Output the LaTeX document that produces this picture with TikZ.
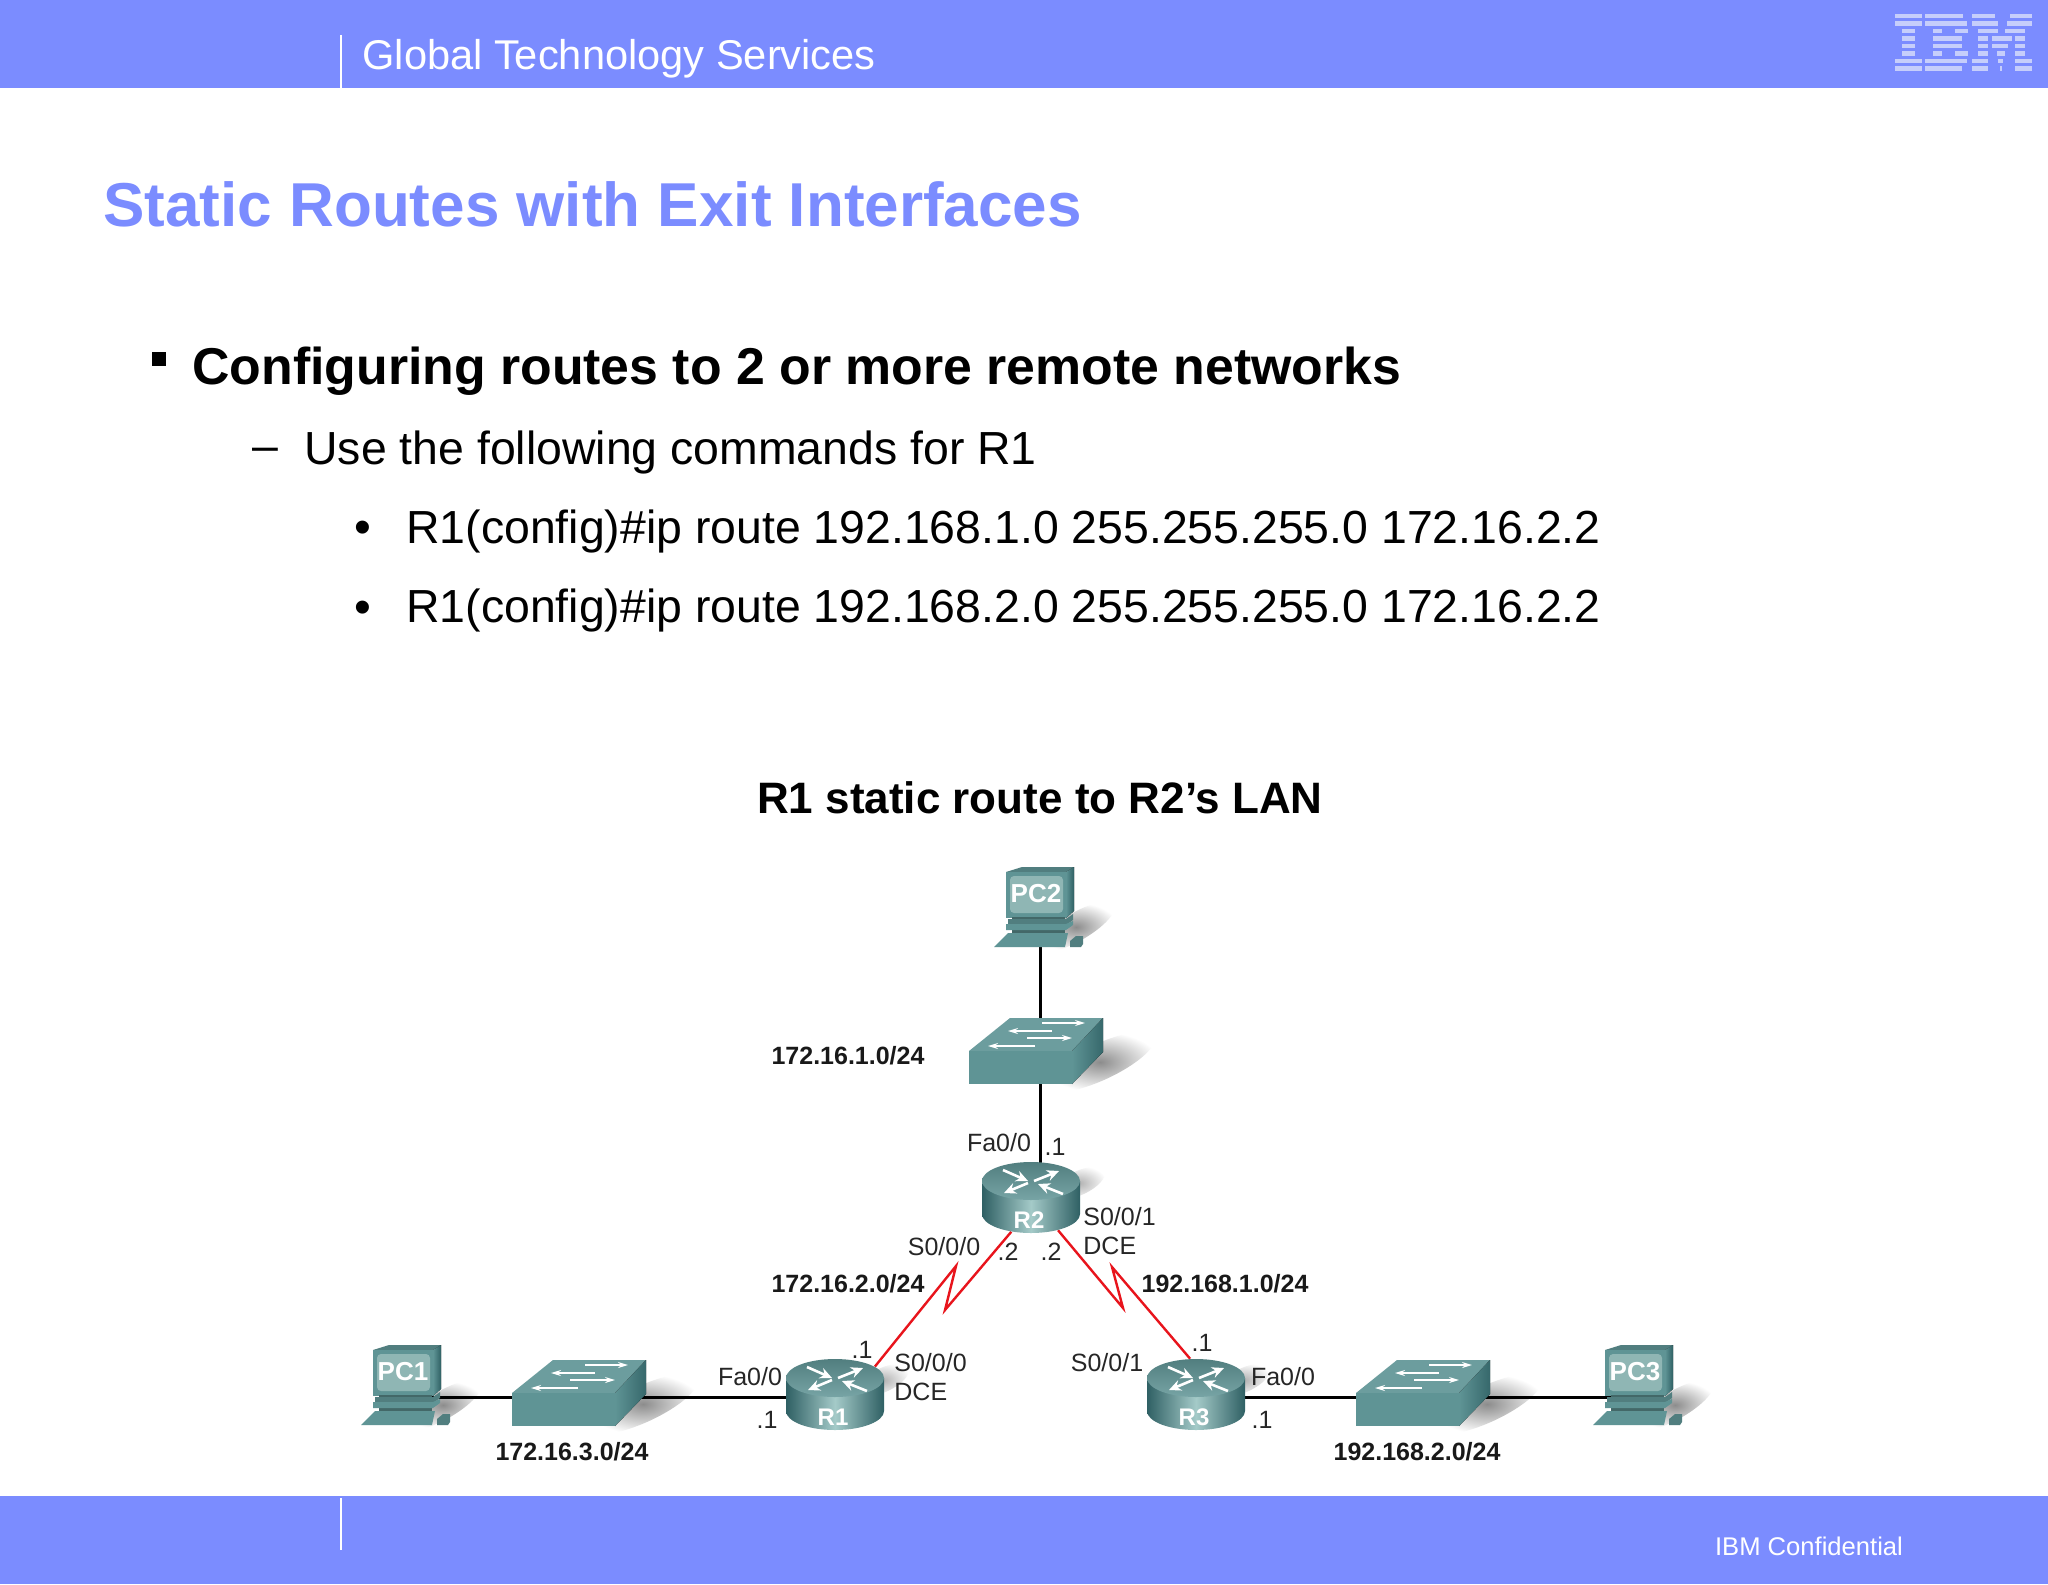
\documentclass[tikz,border=0pt]{standalone}
\usepackage{fontspec}
\setmainfont{Liberation Sans}
\usetikzlibrary{arrows.meta,shapes.geometric}
\definecolor{barblue}{HTML}{7B8CFF}
\definecolor{logoblue}{HTML}{C6CEFB}
\definecolor{teal}{HTML}{5F9495}
\definecolor{tealdark}{HTML}{2F6064}
\definecolor{teallight}{HTML}{A4CAC8}
\definecolor{tealscreen}{HTML}{8FB6B4}
\definecolor{linkred}{HTML}{E8141C}
\pgfdeclarelayer{shadow}
\pgfdeclarelayer{wires}
\pgfsetlayers{shadow,wires,main}

\begin{document}
\begin{tikzpicture}[x=.5pt,y=-.5pt,
head/.style={font=\fontsize{20.8}{24}\selectfont,text=white,inner sep=0},
slidetitle/.style={font=\fontsize{31}{36}\bfseries\selectfont,text=barblue,anchor=base west,inner sep=0},
itemone/.style={font=\fontsize{25.9}{30}\bfseries\selectfont,anchor=base west,inner sep=0},
itemtwo/.style={font=\fontsize{23.2}{28}\selectfont,anchor=base west,inner sep=0},
netlabel/.style={font=\fontsize{12.5}{15}\bfseries\selectfont,text=black!90,inner sep=0},
portlabel/.style={font=\fontsize{12.5}{14.5}\selectfont,text=black!85,inner sep=0,align=left},
lan/.style={line width=1.5pt,black},
serial/.style={line width=1.2pt,linkred,line join=miter},
flowbig/.style={white,line width=1.3pt,-{Stealth[length=6pt,width=5.5pt]}},
flowsmall/.style={white,line width=.7pt,-{Stealth[length=5pt,width=3pt]}},
devtext/.style={font=\fontsize{13}{15}\bfseries\selectfont,text=white,inner sep=0},
pics/pcicon/.style={code={
  \begin{pgfonlayer}{shadow}
    \shade[inner color=black!45,outer color=white,rotate around={30:(36,8)}] (36,8) ellipse[x radius=22pt,y radius=7pt];
  \end{pgfonlayer}
  \coordinate (port) at (0,0);
  \fill[teal!85!black] (-34,-47) -- (-18,-52) -- (34,-52) -- (26,-47) -- cycle;
  \fill[left color=teal,right color=tealdark] (26,-47) -- (34,-52) -- (34,-8) -- (26,-1) -- cycle;
  \fill[teal] (-34,-47) rectangle (26,-1);
  \fill[tealscreen,rounded corners=2pt] (-30,-43) rectangle (23,-6);
  \fill[teal!70!black] (-28,-2) rectangle (25,16);
  \fill[teal!85!black] (-32,0) -- (26,0) -- (33,-5) -- (33,1) -- (26,6) -- (-32,6) -- cycle;
  \fill[teal] (-34,5) -- (26,5) -- (33,2) -- (33,6) -- (26,11) -- (-34,11) -- cycle;
  \fill[teal] (-46,28) -- (-32,14) -- (28,14) -- (25,28) -- cycle;
  \fill[teal!85!black] (30,22) -- (36,17) -- (43,17) -- (43,25) -- (41,28) -- (30,28) -- cycle;
  \node (text) [devtext] at (-4,-25) {#1};
}},
pics/switchicon/.style={code={
  \begin{pgfonlayer}{shadow}
    \shade[inner color=black!45,outer color=white,rotate around={25:(60,12)}] (60,12) ellipse[x radius=30pt,y radius=9pt];
  \end{pgfonlayer}
  \coordinate (port) at (0,5);
  \fill[teal!92!white] (-71,1) -- (-30,-32) -- (63,-32) -- (32,1) -- cycle;
  \fill[teal] (-71,1) rectangle (32,34);
  \fill[left color=teal,right color=tealdark!85!teal] (32,1) -- (63,-32) -- (63,2) -- (32,34) -- cycle;
  \draw[flowsmall] (2,-27) -- (45,-27);
  \draw[flowsmall] (12,-19) -- (-32,-19);
  \draw[flowsmall] (-13,-12) -- (32,-12);
  \draw[flowsmall] (-5,-4) -- (-52,-4);
}},
pics/routericon/.style={code={
  \begin{pgfonlayer}{shadow}
    \shade[inner color=black!30,outer color=white,rotate around={25:(48,2)}] (48,2) ellipse[x radius=14pt,y radius=6pt];
  \end{pgfonlayer}
  \node (base) [ellipse,inner sep=0,minimum width=49pt,minimum height=19pt] at (0,33) {};
  \shade[left color=tealdark,right color=tealdark,middle color=teallight]
    (-49,0) -- (-49,33) arc[start angle=180,end angle=360,x radius=24.5pt,y radius=9.5pt] -- (49,0) -- cycle;
  \node (top) [ellipse,inner sep=0,minimum width=49pt,minimum height=19pt,top color=teal!85!black,bottom color=teal!85!white] at (0,0) {};
  \draw[flowbig] (-28,-11) -- (-3,0);
  \draw[flowbig] (3,0) -- (28,-10);
  \draw[flowbig] (-3,2) -- (-27,12);
  \draw[flowbig] (32,13) -- (7,3);
  \node (text) [devtext,font=\fontsize{12}{14}\bfseries\selectfont] at (-2,39) {#1};
}}]
\useasboundingbox (0,0) rectangle (2048,1584);
\begin{pgfonlayer}{shadow}
\fill[white] (0,0) rectangle (2048,1584);
\end{pgfonlayer}

% header and footer
\fill[barblue] (0,0) rectangle (2048,88.5);
\fill[barblue] (0,1496) rectangle (2048,1584);
\draw[white,line width=.8pt] (341,35) -- (341,88);
\draw[white,line width=.8pt] (341,1498) -- (341,1550);
\node (company) [head,anchor=base west] at (362,70) {Global Technology Services};
\node (confidential) [head,font=\fontsize{12.8}{15}\selectfont] at (1809,1546) {IBM Confidential};
\begin{scope}[shift={(1860,0)},x=.1667pt,y=-.1667pt]
\foreach \rowy/\xa/\xb in {
  47/105/185,47/195/310,47/335/405,47/450/515,
  70/105/185,70/195/320,70/335/415,70/440/515,
  92/125/165,92/220/245,92/285/325,92/355/415,92/435/495,
  115/125/165,115/220/305,115/355/385,115/395/455,115/465/495,
  137/125/165,137/220/305,137/355/385,137/395/445,137/465/495,
  160/125/165,160/220/245,160/285/325,160/355/385,160/410/435,160/465/495,
  183/105/185,183/195/320,183/335/385,183/415/430,183/465/515,
  205/105/185,205/195/305,205/335/385,205/420/426,205/465/515}
  \fill[logoblue] (\xa,\rowy-6.5) rectangle (\xb,\rowy+6.5);
\end{scope}

% slide text
\node (title) [slidetitle] at (103,226) {Static Routes with Exit Interfaces};
\node (square) [fill=black,inner sep=0,minimum size=7pt] at (159,359) {};
\node (item) [itemone] at (192,384) {Configuring routes to 2 or more remote networks};
\node (dash) [itemtwo] at (252,461) {–};
\node (use) [itemtwo] at (304,464) {Use the following commands for R1};
\node (dotone) [inner sep=0,font=\fontsize{24}{28}\selectfont] at (363,532) {•};
\node (cmdone) [itemtwo] at (406,543) {R1(config)\#ip route 192.168.1.0 255.255.255.0 172.16.2.2};
\node (dottwo) [inner sep=0,font=\fontsize{24}{28}\selectfont] at (363,612) {•};
\node (cmdtwo) [itemtwo] at (406,622) {R1(config)\#ip route 192.168.2.0 255.255.255.0 172.16.2.2};

% topology
\node (figtitle) [font=\fontsize{22}{26}\bfseries\selectfont,inner sep=0] at (1040,798) {R1 static route to R2’s LAN};
\pic (pc2) at (1040,919) {pcicon=PC2};
\pic (pc1) at (407,1397) {pcicon=PC1};
\pic (pc3) at (1639,1397) {pcicon=PC3};
\pic (sw2) at (1040,1050) {switchicon};
\pic (sw1) at (583,1392) {switchicon};
\pic (sw3) at (1427,1392) {switchicon};
\pic (r2) at (1031,1181) {routericon=R2};
\pic (r1) at (835,1378) {routericon=R1};
\pic (r3) at (1196,1378) {routericon=R3};
\coordinate (boltone) at (956,1266);
\coordinate (bolttwo) at (945,1310);
\coordinate (boltthree) at (1112,1267);
\coordinate (boltfour) at (1123,1308);

\begin{pgfonlayer}{wires}
\draw[lan] (pc2port) -- (sw2port);
\draw[lan] (sw2port) -- (sw2port |- r2top);
\draw[lan] (pc1port) -- (sw1port);
\draw[lan] (sw1port) -- (sw1port -| r1top);
\draw[lan] (r3top |- sw3port) -- (sw3port);
\draw[lan] (sw3port) -- (pc3port);
\draw[serial] (r1top.16) -- (boltone) -- (bolttwo) -- (r2base.222);
\draw[serial] (r3top.107) -- (boltthree) -- (boltfour) -- (r2base.329);
\end{pgfonlayer}

\node (netsw2) [netlabel] at (848,1056) {172.16.1.0/24};
\node (netleft) [netlabel] at (848,1284) {172.16.2.0/24};
\node (netright) [netlabel] at (1225,1284) {192.168.1.0/24};
\node (netsw1) [netlabel] at (572,1452) {172.16.3.0/24};
\node (netsw3) [netlabel] at (1417,1452) {192.168.2.0/24};

\node (r2fa) [portlabel] at (999,1143) {Fa0/0};
\node (r2fadot) [portlabel] at (1055,1147) {.1};
\node (r2right) [portlabel,anchor=west] at (1083,1231) {S0/0/1\\DCE};
\node (r2left) [portlabel] at (944,1247) {S0/0/0};
\node (r2dotl) [portlabel] at (1008,1252) {.2};
\node (r2dotr) [portlabel] at (1051,1252) {.2};
\node (r1ser) [portlabel,anchor=west] at (894,1377) {S0/0/0\\DCE};
\node (r1serdot) [portlabel] at (862,1350) {.1};
\node (r1fa) [portlabel] at (750,1377) {Fa0/0};
\node (r1fadot) [portlabel] at (767,1420) {.1};
\node (r3ser) [portlabel] at (1107,1363) {S0/0/1};
\node (r3serdot) [portlabel] at (1202,1343) {.1};
\node (r3fa) [portlabel] at (1283,1377) {Fa0/0};
\node (r3fadot) [portlabel] at (1262,1420) {.1};
\end{tikzpicture}
\end{document}
